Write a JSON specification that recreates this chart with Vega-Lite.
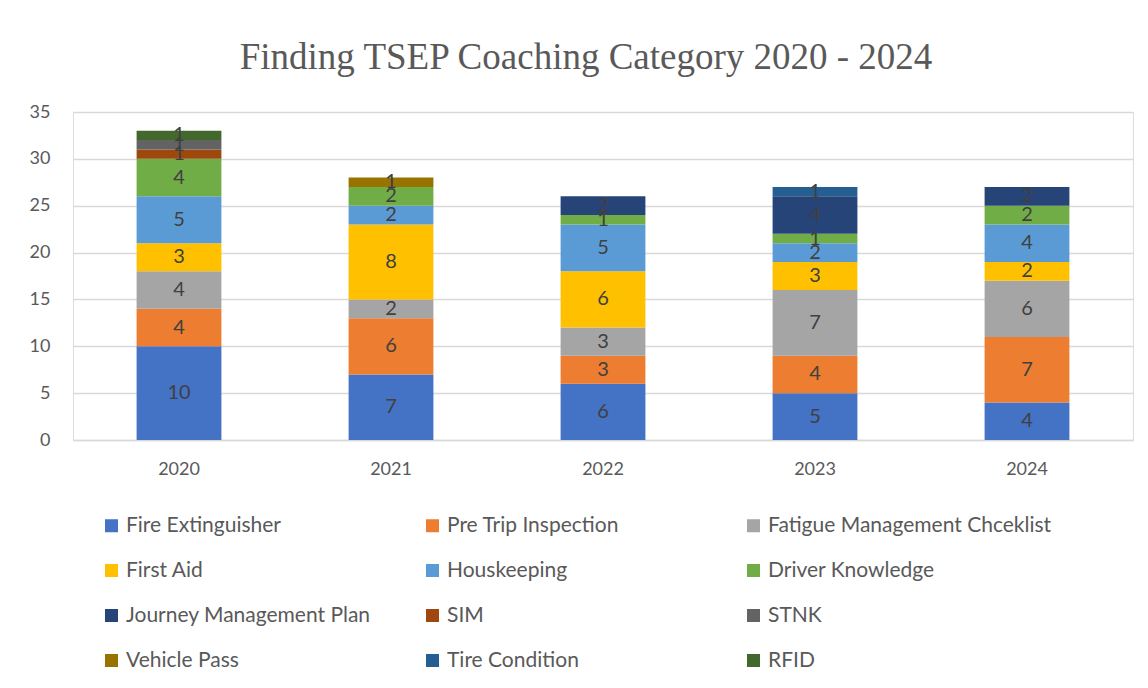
{
  "$schema": "https://vega.github.io/schema/vega-lite/v6.json",
  "autosize": {"type": "none"},
  "width": 1060,
  "height": 328,
  "padding": {"left": 73, "top": 112, "right": 15, "bottom": 248},
  "background": "white",
  "title": {
    "text": "Finding TSEP Coaching Category 2020 - 2024",
    "font": "Liberation Serif",
    "fontSize": 37,
    "fontWeight": "normal",
    "color": "#595959",
    "baseline": "alphabetic",
    "offset": 36,
    "dx": -17,
    "dy": 39
  },
  "data": {
    "values": [
      {"year": "2020", "category": "Fire Extinguisher", "n": 10, "o": 1},
      {"year": "2020", "category": "Pre Trip Inspection", "n": 4, "o": 2},
      {"year": "2020", "category": "Fatigue Management Chceklist", "n": 4, "o": 3},
      {"year": "2020", "category": "First Aid", "n": 3, "o": 4},
      {"year": "2020", "category": "Houskeeping", "n": 5, "o": 5},
      {"year": "2020", "category": "Driver Knowledge", "n": 4, "o": 6},
      {"year": "2020", "category": "SIM", "n": 1, "o": 8},
      {"year": "2020", "category": "STNK", "n": 1, "o": 9},
      {"year": "2020", "category": "RFID", "n": 1, "o": 12},
      {"year": "2021", "category": "Fire Extinguisher", "n": 7, "o": 1},
      {"year": "2021", "category": "Pre Trip Inspection", "n": 6, "o": 2},
      {"year": "2021", "category": "Fatigue Management Chceklist", "n": 2, "o": 3},
      {"year": "2021", "category": "First Aid", "n": 8, "o": 4},
      {"year": "2021", "category": "Houskeeping", "n": 2, "o": 5},
      {"year": "2021", "category": "Driver Knowledge", "n": 2, "o": 6},
      {"year": "2021", "category": "Vehicle Pass", "n": 1, "o": 10},
      {"year": "2022", "category": "Fire Extinguisher", "n": 6, "o": 1},
      {"year": "2022", "category": "Pre Trip Inspection", "n": 3, "o": 2},
      {"year": "2022", "category": "Fatigue Management Chceklist", "n": 3, "o": 3},
      {"year": "2022", "category": "First Aid", "n": 6, "o": 4},
      {"year": "2022", "category": "Houskeeping", "n": 5, "o": 5},
      {"year": "2022", "category": "Driver Knowledge", "n": 1, "o": 6},
      {"year": "2022", "category": "Journey Management Plan", "n": 2, "o": 7},
      {"year": "2023", "category": "Fire Extinguisher", "n": 5, "o": 1},
      {"year": "2023", "category": "Pre Trip Inspection", "n": 4, "o": 2},
      {"year": "2023", "category": "Fatigue Management Chceklist", "n": 7, "o": 3},
      {"year": "2023", "category": "First Aid", "n": 3, "o": 4},
      {"year": "2023", "category": "Houskeeping", "n": 2, "o": 5},
      {"year": "2023", "category": "Driver Knowledge", "n": 1, "o": 6},
      {"year": "2023", "category": "Journey Management Plan", "n": 4, "o": 7},
      {"year": "2023", "category": "Tire Condition", "n": 1, "o": 11},
      {"year": "2024", "category": "Fire Extinguisher", "n": 4, "o": 1},
      {"year": "2024", "category": "Pre Trip Inspection", "n": 7, "o": 2},
      {"year": "2024", "category": "Fatigue Management Chceklist", "n": 6, "o": 3},
      {"year": "2024", "category": "First Aid", "n": 2, "o": 4},
      {"year": "2024", "category": "Houskeeping", "n": 4, "o": 5},
      {"year": "2024", "category": "Driver Knowledge", "n": 2, "o": 6},
      {"year": "2024", "category": "Journey Management Plan", "n": 2, "o": 7}
    ]
  },
  "encoding": {
    "x": {
      "field": "year",
      "type": "nominal",
      "scale": {"paddingInner": 0.6, "paddingOuter": 0.3},
      "axis": {
        "title": null,
        "labelAngle": 0,
        "labelFont": "Lato",
        "labelFontSize": 18,
        "labelColor": "#595959",
        "labelPadding": 20,
        "ticks": false,
        "domainColor": "#D9D9D9",
        "domainWidth": 1.5
      }
    },
    "y": {
      "field": "n",
      "type": "quantitative",
      "aggregate": "sum",
      "stack": "zero",
      "scale": {"domain": [0, 35], "nice": false},
      "axis": {
        "title": null,
        "values": [0, 5, 10, 15, 20, 25, 30, 35],
        "labelFont": "Lato",
        "labelFontSize": 18,
        "labelColor": "#595959",
        "labelPadding": 23,
        "ticks": false,
        "domain": false,
        "gridColor": "#D9D9D9",
        "gridWidth": 1.5
      }
    },
    "order": {"field": "o", "type": "quantitative", "sort": "ascending"}
  },
  "layer": [
    {
      "mark": {"type": "bar"},
      "encoding": {
        "color": {
          "field": "category",
          "type": "nominal",
          "scale": {
            "domain": ["Fire Extinguisher", "Pre Trip Inspection", "Fatigue Management Chceklist", "First Aid", "Houskeeping", "Driver Knowledge", "Journey Management Plan", "SIM", "STNK", "Vehicle Pass", "Tire Condition", "RFID"],
            "range": ["#4472C4", "#ED7D31", "#A5A5A5", "#FFC000", "#5B9BD5", "#70AD47", "#264478", "#9E480E", "#636363", "#997300", "#255E91", "#43682B"]
          },
          "legend": {
            "title": null,
            "orient": "none",
            "legendX": 28,
            "legendY": 403,
            "direction": "horizontal",
            "columns": 3,
            "gridAlign": "all",
            "columnPadding": 12,
            "rowPadding": 23,
            "symbolType": "square",
            "symbolSize": 169,
            "symbolStrokeWidth": 0,
            "symbolOpacity": 1,
            "labelFont": "Lato",
            "labelFontSize": 21,
            "labelColor": "#595959",
            "labelOffset": 4,
            "labelLimit": 400
          }
        }
      }
    },
    {
      "mark": {"type": "text", "font": "Lato", "fontSize": 20, "color": "#404040"},
      "encoding": {
        "y": {"field": "n", "type": "quantitative", "aggregate": "sum", "stack": "zero", "bandPosition": 0.5},
        "text": {"field": "n", "type": "quantitative", "aggregate": "sum"},
        "detail": {"field": "category", "type": "nominal"}
      }
    }
  ]
}
